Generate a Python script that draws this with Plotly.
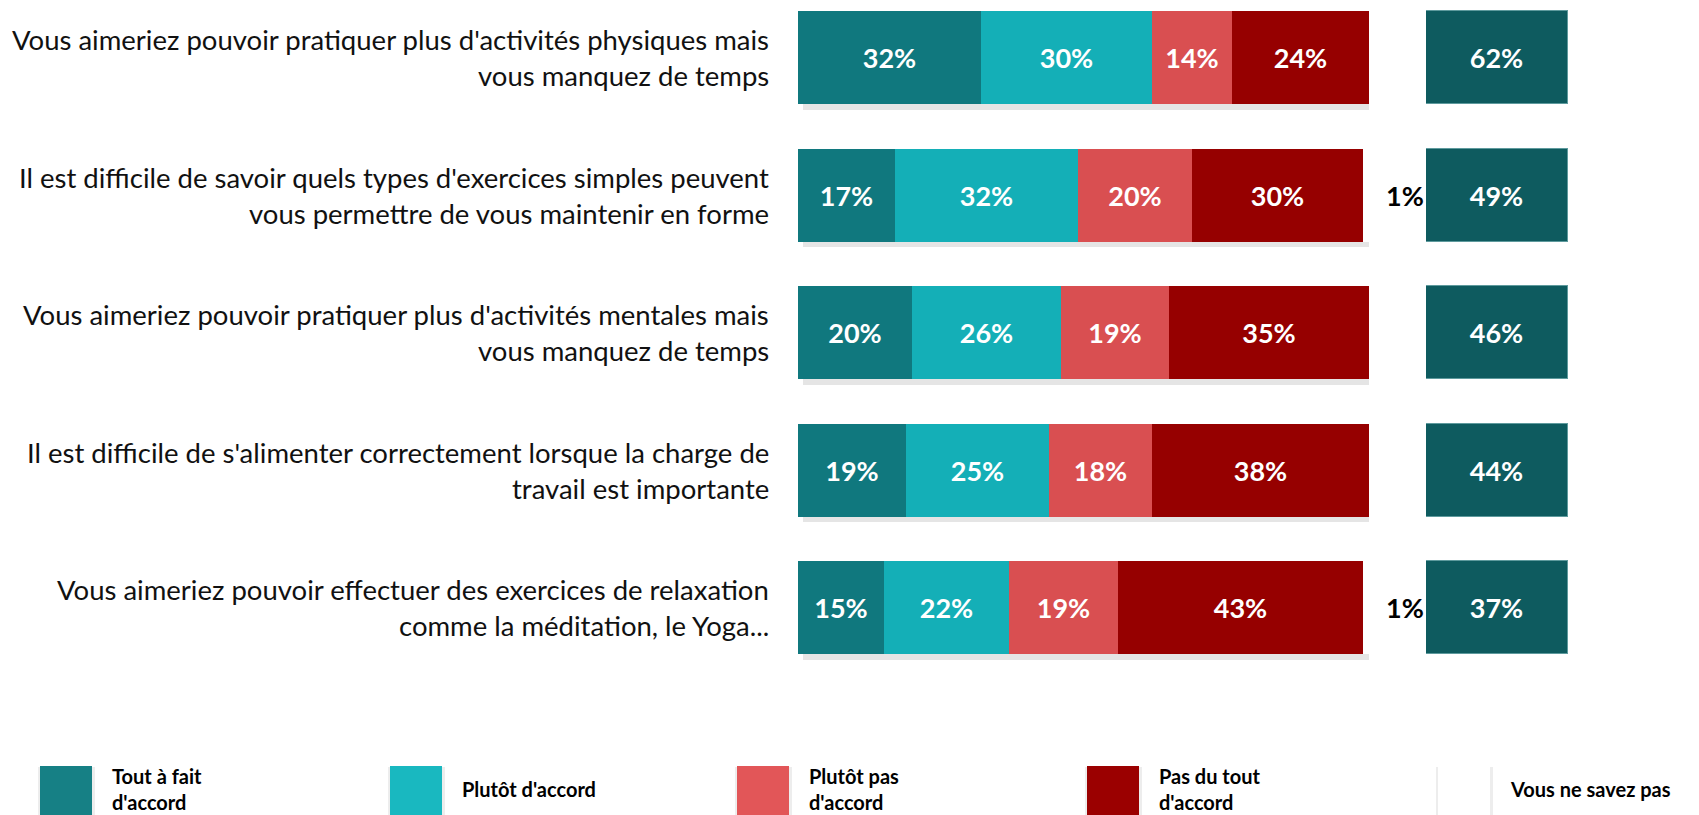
import plotly.graph_objects as go

# ---- data ----
questions = [
    "Vous aimeriez pouvoir pratiquer plus d'activités physiques mais<br>vous manquez de temps",
    "Il est difficile de savoir quels types d'exercices simples peuvent<br>vous permettre de vous maintenir en forme",
    "Vous aimeriez pouvoir pratiquer plus d'activités mentales mais<br>vous manquez de temps",
    "Il est difficile de s'alimenter correctement lorsque la charge de<br>travail est importante",
    "Vous aimeriez pouvoir effectuer des exercices de relaxation<br>comme la méditation, le Yoga...",
]
tout_a_fait = [32, 17, 20, 19, 15]
plutot_accord = [30, 32, 26, 25, 22]
plutot_pas = [14, 20, 19, 18, 19]
pas_du_tout = [24, 30, 35, 38, 43]
ne_sait_pas = [0, 1, 0, 0, 1]
total_accord = [62, 49, 46, 44, 37]

series_names = ["Tout à fait<br>d'accord", "Plutôt d'accord", "Plutôt pas<br>d'accord",
                "Pas du tout<br>d'accord", "Vous ne savez pas"]

# ---- styling ----
W, H = 1699, 815
FONT = "Lato"
colors = ["#10787E", "#14AFB7", "#D94F51", "#960000", "#FFFFFF"]
legend_colors = ["#168085", "#19B8C0", "#E25658", "#9B0000", "#FFFFFF"]
total_color = "#0E5B5F"


def px(x):
    return x / W


def py(y):
    return 1 - y / H


rows = list(range(len(questions)))
bar_w = 0.676

fig = go.Figure()

# soft drop shadow behind each stacked bar
row_sums = [a + b + c + d + e for a, b, c, d, e in
            zip(tout_a_fait, plutot_accord, plutot_pas, pas_du_tout, ne_sait_pas)]
fig.add_trace(go.Bar(
    y=rows, x=row_sums, base=0.8, orientation="h", width=bar_w,
    offset=-bar_w / 2 + 0.04,
    marker=dict(color="rgba(0,0,0,0.10)", line=dict(width=0)),
    hoverinfo="skip", showlegend=False,
))

series = [tout_a_fait, plutot_accord, plutot_pas, pas_du_tout, ne_sait_pas]
for vals, name, col in zip(series, series_names, colors):
    is_last = vals is ne_sait_pas
    fig.add_trace(go.Bar(
        y=rows, x=vals, orientation="h", width=bar_w, name=name.replace("<br>", " "),
        marker=dict(color=col, line=dict(width=0)),
        text=[("" if (v == 0 or is_last) else f"{v}%") for v in vals],
        textposition="inside", insidetextanchor="middle", textangle=0,
        constraintext="none",
        textfont=dict(family=FONT, size=27, color="white", weight="bold"),
        showlegend=False,
    ))

# fixed-width cells holding the total agreement
fig.add_trace(go.Bar(
    y=rows, x=[1] * len(rows), orientation="h", width=bar_w, xaxis="x2",
    marker=dict(color=total_color, line=dict(width=1, color="#5E9A9D")),
    text=[f"{v}%" for v in total_accord],
    textposition="inside", insidetextanchor="middle", textangle=0,
    constraintext="none",
    textfont=dict(family=FONT, size=27, color="white", weight="bold"),
    showlegend=False,
))

fig.update_layout(barmode="stack")

annotations = []
# "don't know" values printed just after the end of the bar
for i in rows:
    if ne_sait_pas[i] > 0:
        annotations.append(dict(
            x=row_sums[i], y=i, xref="x", yref="y", text=f"<b>{ne_sait_pas[i]}%</b>",
            showarrow=False, xanchor="left", yanchor="middle", xshift=15,
            font=dict(family=FONT, size=27, color="black"),
        ))

# question labels, right aligned, one annotation per line
for i, q in enumerate(questions):
    lines = q.split("<br>")
    n = len(lines)
    for k, line in enumerate(lines):
        annotations.append(dict(
            x=px(771), y=i, xref="paper", yref="y", text=line,
            showarrow=False, xanchor="right", yanchor="middle",
            yshift=-(k - (n - 1) / 2) * 36,
            font=dict(family=FONT, size=27.5, color="#111111"),
        ))

# hand-made legend along the bottom
shapes = []
legend_x = [40, 390, 737, 1087, 1438]
for lx, name, col in zip(legend_x, series_names, legend_colors):
    shapes.append(dict(type="rect", xref="paper", yref="paper",
                       x0=px(lx - 2), x1=px(lx + 55), y0=py(818), y1=py(767),
                       fillcolor="rgba(0,0,0,0.07)", line=dict(width=0), layer="below"))
    shapes.append(dict(type="rect", xref="paper", yref="paper",
                       x0=px(lx), x1=px(lx + 52), y0=py(818), y1=py(766),
                       fillcolor=col, line=dict(width=0), layer="above"))
    annotations.append(dict(
        x=px(lx + 70), y=py(789), xref="paper", yref="paper",
        text=f"<b>{name}</b>", showarrow=False, xanchor="left", yanchor="middle",
        align="left", font=dict(family=FONT, size=20, color="black"),
    ))

fig.update_layout(
    width=W, height=H, autosize=False,
    margin=dict(l=0, r=0, t=0, b=0, pad=0),
    paper_bgcolor="white", plot_bgcolor="rgba(0,0,0,0)",
    xaxis=dict(domain=[px(798), px(1369)], range=[0, 100], visible=False, fixedrange=True),
    xaxis2=dict(domain=[px(1426), px(1568)], range=[0, 1], visible=False, anchor="y"),
    yaxis=dict(range=[(H - 57.5) / 137.6, -57.5 / 137.6], visible=False, domain=[0, 1]),
    annotations=annotations, shapes=shapes,
    showlegend=False, bargap=0,
)

fig.write_html("out.html")
